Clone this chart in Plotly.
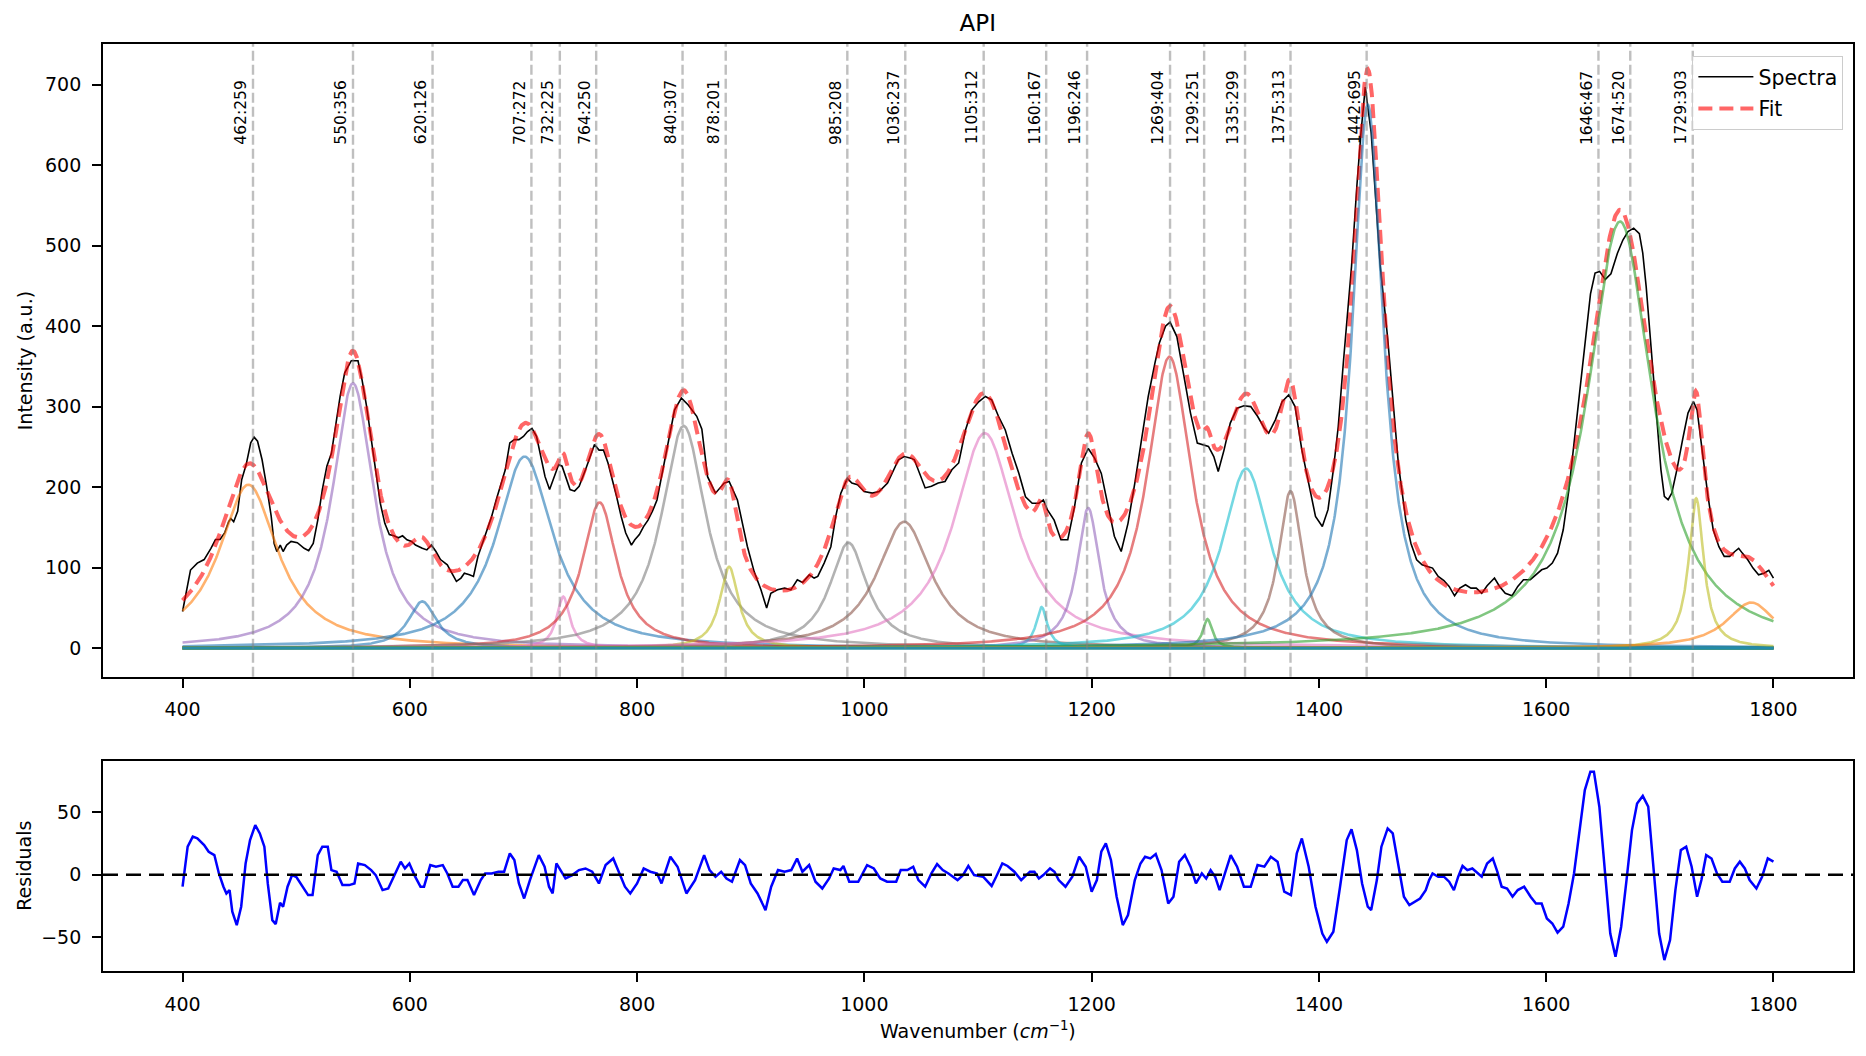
import numpy as np
import plotly.graph_objects as go

# ---------------- data ----------------
spec_x = [400,407,413,419,425,429,433,437,440.6,442.5,445,448.5,452,456,460,463,466,470,474,478,480.6,483,486,488.5,491.6,495.5,501,507,511,515,519,523,527,531,535,538.7,542.7,548.5,554.4,558,562,566,570,574,578,582,586,590,593.6,597.5,601.5,605,611,615,619,623,627,633,637,641,645,648,652.5,656,660,664,668,672,676,680,684,688,692,696,700,703.6,707.5,711.5,715,719,723,727,731,734,737,741,745,749,754.6,758.6,762.5,766.5,770.4,774.4,778.3,782,786,790,795,798,802,805.7,809.6,813.5,817.5,821,825,829,833,839,845,852.5,
          857,862,869,876.6,881,888.3,897,903,909,914,917.7,923.5,929.8,935.3,941,945.6,951.5,955.8,959,964.6,970.5,975,979.3,985,989,994,999.8,1007,1013,1020.4,1026.3,1030,1035,1041,1044,1049.5,1053.5,1059,1065,1071,1077,1083,1089,1094.7,1100.6,1106.5,1112,1118,1124,1130,1136,1141.8,1147.7,1153.6,1157.5,1161,1167,1173,1179,1185,1191,1197,1202.6,1208.5,1214,1220,1226,1232,1238,1244,1249.8,1255.7,1259.6,1265,1269,1275,1281,1287,1293,1298.8,1302.8,1307.5,1311.4,1316.5,1322,1328,1334,1340,1346,1352,1355.8,1361.7,1367.6,1373.5,1379,1385,1391,1397,1403,1408,1412.7,1417,1421.7,1428.7,1433.4,1437,1440.8,1446,1450,1454,1460.5,1465,1470,1476.4,1481,1486,1490.8,1495.5,1500,1505,1510,1514.6,1519.4,1524,1529,1533.8,1538.5,1543.3,1548,1554.5,1559,1564,1570,1575,1580,1586,1591,1596,1600.6,1605.4,1610,1615,1620,1625,1630,1635,1639,1643,1647,1652,1657,1662.7,1667.5,1672,1677,1682,1685,1688,1691.4,1694.6,1697.8,1701,1704,1707.3,1710.5,1715,1720,1724.8,1729.6,1732.8,1737.6,1742.4,1747,1752,1756.7,1761.5,1766,1769.4,1772.6,1777.4,1782,1786.9,1791.7,1795.9,1800]
spec_y = [45.5,97,105.6,110,124,135,135,143,157,161,157,170,209,228,255,262,257,234,201,164,130,120,128,120,128,132.5,131,124,121,130,159,197,226,242,279,313,342,357,357,333,300,259,221,180,155,141,139.5,137,139.5,134.6,132.5,128,124,122,128,120,110,103.5,93,83,87,93,91,89,114,130,147,163.5,184,203,221.5,255,259,259,263,269,273,263,238,213,197,213,228,226,213,197,195,201,221.5,238,253,246,246,230,209,188,163.5,143,128,134.6,141,151,159,170,184,209,238,271,296,310.5,302,288,
          272,213,192.5,205,207,184,126.5,95,72.4,49.7,68,72.4,74.5,72.4,84.8,81.5,91,87,89,105.6,126,165,192.5,210.9,205,203,194.6,192.5,194.6,205,221.7,234,238,236,234,213,199,201,205,207,221.5,230,271,296,306,312.6,308.5,288,271,242,217,188,180,180,184,172,159,134.6,134.6,176,230,248,236,217,180,139,120,155,205,259,312.6,354,379,400,405,387,341.6,292,254.7,252.6,250.5,238,219.5,246,279.5,298,301,300,288,273,267,283.6,306,314.7,300,246,205,163.6,151,172,221.5,275,358,474,574,640,697,640,557,474,385,311,228,160,130,109.7,103.5,101.4,99.4,89,84,76.6,65,74.5,78.7,74.5,74.5,68,77.4,87,76.6,68,65,76.6,85,85,91,97.3,99.4,105.6,118,147,197,259,325,390,440,466,468,458,465,490.6,507,517.5,521.7,515,490.6,449,391,333,271,221.5,188.4,184.3,192.5,221.5,258.8,292,306.4,296,242,188.4,147,126,113.9,113.9,120,124,118,109.7,99.4,91,93,96.5,87]

res_x = [400,404.5,409,413,419,423,428,432,436,438.6,441.4,443.8,447.7,451.6,455.5,459.4,464,468,472,475,479,482,485.8,488.5,492.4,496.4,500.3,505.4,510.5,514.4,519,523,527.8,531,535.6,540.7,546.6,551.3,554.5,560.4,566,570,576,581,586,592,595.7,599.6,604.7,609.4,612.5,618,623,629,633,637.7,642.8,646.7,650.7,656.5,662.4,666.3,672,678,683,688,692,696,700.6,705.7,713.5,718.6,722.5,725.7,729,733,737,743,748.8,754.6,760.5,766.4,772.3,779,784,789.3,794,800,805.8,811.7,817.6,821.5,829.3,835.6,843.4,851,859,863.8,869,874,878.7,883.5,890.5,895,900,906,913,918,924,929.8,935.7,940.8,945.5,951.4,957,963,969,973,978.9,981.6,986.7,994.6,1002.4,1008.3,1014,1020,1028,1032,1037.8,1043,1047.6,1053.5,1059,1064,1069,1074,1082,1086.8,1091.5,1096.6,1104.5,1112,1116,1121.4,1126,1132,1138,1145.7,1149.6,1153.6,1157.5,1163.4,1167.3,1171,1177,1183,1189,1194.8,1200,1204.6,1208.5,1212.5,1217,1222,1227.4,1232,1238,1243,1247,1251.7,1256.4,1261.5,1267.4,1272,1277,1282,1287,1291.8,1297,1300.8,1304.7,1308.7,1312.6,1316.5,1322.4,1328,1334,1340,1346,1352,1357.7,1363.6,1369.5,1375.4,1380.5,1385,1391,1397,1403,1407,1412.7,1418.6,1424.5,1428.7,1433.4,1438,1443,1446,1451,1455,1460.5,1465,1470,1474.8,1479.6,1484.4,1489,1494,1497,1500,1505,1510,1514.6,1518.8,1522.6,1526.4,1530.6,1535,1540,1543.3,1548,1553,1557,1560.8,1565.6,1570.4,1575,1580.6,1586.3,1591,1596,1600.6,1605.4,1610,1615,1619.7,1624.5,1629.3,1634,1638.9,1642,1646.8,1651.6,1656.4,1661,1666,1670.7,1675.5,1680,1685,1689.8,1694.6,1699.4,1704,1709,1713.7,1718.5,1723.2,1728,1732.8,1736.6,1740.8,1745.5,1750.3,1755,1761.5,1766,1770.4,1774.8,1779,1785,1790,1795,1800]
res_y = [-9.6,22.4,30.4,29,23.7,18.4,15.7,1,-9.6,-15,-12.3,-29.6,-40.3,-25.6,9,27.7,39.7,33,22.4,-7,-36.3,-39.5,-22.4,-25.6,-9.6,-0.3,-2,-9.6,-16.3,-16.3,15.7,22.4,22.4,3.7,2.4,-8.3,-8.3,-7,9,7.7,3.7,-0.3,-12.3,-11,-1.6,10.4,5,9,-1.6,-9.6,-9.6,7.7,6.4,7.7,1,-9.6,-9.6,-4.3,-4.3,-16.3,-4.3,1,1,2.4,2.4,17,11.7,-7,-19,-4.3,15.7,6.4,-9.6,-15,9,2.4,-3,-0.3,3.7,5,2.4,-7,7.7,13,2.4,-9.6,-15,-7,5,2.4,1,-7,14.4,6.4,-15,-4.3,15.7,3.7,-1.6,2.4,-3,-5.6,11.7,7.7,-7,-15,-28.3,-9.6,3.7,2.4,3.7,13,2.4,7.7,-5.6,-11,-3,5,3.7,7,-5.6,-5.6,7.7,5,-3,-5.6,-5.6,3.7,3.7,6.4,-4.3,-9.6,1,8.5,3.7,1,-4.3,-0.3,7,-0.3,-1.6,-9,-1.6,9,7,2.4,-4.3,2.4,2.4,-3,-0.3,5,2.4,-4.3,-9.6,-1.6,14.4,6.4,-13.6,-4.3,18.4,25,11.7,-17.6,-40.3,-32.3,-4.3,9,14.4,13,16.5,3.7,-23,-17.6,10.4,15.7,6.4,-7,1,-3,3.7,-1.6,-12.3,-1.6,15.7,6.4,-9.6,-9.6,7.7,6.4,14.4,10.4,-13.6,-16.3,17,29,6.4,-25.6,-47,-53.6,-45.6,-9.6,27.7,36.3,19.7,-7,-25.6,-28.3,-4.3,22.4,37,33,6.4,-17.6,-24.3,-21.6,-19,-12.3,-4.3,1,-1.6,-1.6,-5.6,-12.3,-1.6,7,3.7,5,1,-1.6,9,13,2.4,-9.6,-11,-17.6,-12.3,-9.6,-17.6,-23,-23,-35,-39,-46.4,-41.6,-23,1,35.7,67.7,82.4,82.4,54.4,1,-47,-65.6,-41.6,-4.3,35.7,57,63,54.4,1,-47,-68.3,-52.3,-12.3,19.7,22.4,6.4,-17.6,-4.3,15.7,13,1,-5.6,-5.6,5,10.4,5,-4.3,-11,-1.6,13,10.4]

# fitted Lorentzian components (centre, height, half width)
comp_center = [458, 550, 611, 701, 735, 767, 841, 881, 986, 1035, 1106, 1156, 1197, 1268.5, 1302, 1336, 1375, 1443, 1665, 1732, 1780.5, 1100, 1100, 1100]
comp_height = [203, 329, 58, 238, 64, 181, 276, 101, 131, 157, 267, 51, 174, 362, 36, 223, 195, 675, 530, 186, 56.7, 0, 0, 0]
comp_hwhm = [31.5, 22, 15, 30, 7, 18.5, 24, 10, 20, 29, 33, 6, 12, 24, 5, 25.5, 13, 16.5, 35, 8, 26.5, 1, 1, 1]
comp_color = ['#ff7f0e', '#9467bd', '#1f77b4', '#1f77b4', '#e377c2', '#d62728', '#7f7f7f', '#bcbd22',
              '#7f7f7f', '#8c564b', '#e377c2', '#17becf', '#9467bd', '#d62728', '#2ca02c', '#17becf',
              '#8c564b', '#1f77b4', '#2ca02c', '#bcbd22', '#ff7f0e', '#2ca02c', '#17becf', '#1f77b4']

peak_pos = [462, 550, 620, 707, 732, 764, 840, 878, 985, 1036, 1105, 1160, 1196, 1269, 1299, 1335, 1375, 1442, 1646, 1674, 1729]
peak_val = [259, 356, 126, 272, 225, 250, 307, 201, 208, 237, 312, 167, 246, 404, 251, 299, 313, 695, 467, 520, 303]

x_ticks = [400, 600, 800, 1000, 1200, 1400, 1600, 1800]
# ------------------------------------------------------------

FONT = "DejaVu Sans"
grid = np.arange(400, 1800.01, 0.5)

def hex_rgba(h, a):
    h = h.lstrip('#')
    return f"rgba({int(h[0:2],16)},{int(h[2:4],16)},{int(h[4:6],16)},{a})"

comps = [hgt / (1 + ((grid - c) / w) ** 2) for c, hgt, w in zip(comp_center, comp_height, comp_hwhm)]
fit = np.sum(comps, axis=0)

fig = go.Figure()
fig.add_trace(go.Scatter(x=spec_x, y=spec_y, mode='lines', name='Spectra', legendgroup='a',
                         line=dict(color='black', width=1.6), xaxis='x', yaxis='y'))
fig.add_trace(go.Scatter(x=grid, y=fit, mode='lines', name='Fit', legendgroup='b',
                         line=dict(color='rgba(255,0,0,0.6)', width=4, dash='14px,7px'),
                         xaxis='x', yaxis='y'))
for comp, col in zip(comps, comp_color):
    fig.add_trace(go.Scatter(x=grid, y=comp, mode='lines', showlegend=False,
                             line=dict(color=hex_rgba(col, 0.6), width=2.6), xaxis='x', yaxis='y',
                             hoverinfo='skip'))

fig.add_trace(go.Scatter(x=res_x, y=res_y, mode='lines', showlegend=False,
                         line=dict(color='#0000ff', width=2.5), xaxis='x2', yaxis='y2'))
fig.add_trace(go.Scatter(x=[330, 1870], y=[0, 0], mode='lines', showlegend=False,
                         line=dict(color='black', width=2.5, dash='15px,8px'), xaxis='x2', yaxis='y2'))

shapes = []
annotations = []
for p, v in zip(peak_pos, peak_val):
    shapes.append(dict(type='line', xref='x', yref='y domain', x0=p, x1=p, y0=0, y1=1,
                       line=dict(color='rgba(128,128,128,0.5)', width=2.4, dash='10px,4px'),
                       layer='above'))
    annotations.append(dict(x=p, y=623, xref='x', yref='y', text=f"{p}:{v}", textangle=-90,
                            xanchor='right', yanchor='bottom', showarrow=False, xshift=-1,
                            font=dict(family=FONT, size=15.5, color='black')))

# axis titles
annotations.append(dict(x=-0.0446, y=0.6588, xref='paper', yref='paper', text='Intensity (a.u.)',
                        textangle=-90, showarrow=False, xanchor='center', yanchor='middle',
                        font=dict(family=FONT, size=19, color='black')))
annotations.append(dict(x=-0.0452, y=0.1134, xref='paper', yref='paper', text='Residuals',
                        textangle=-90, showarrow=False, xanchor='center', yanchor='middle',
                        font=dict(family=FONT, size=19, color='black')))
annotations.append(dict(x=0.5, y=-0.0636, xref='paper', yref='paper',
                        text='Wavenumber (<i>cm</i><sup>\u22121</sup>)',
                        showarrow=False, xanchor='center', yanchor='middle',
                        font=dict(family=FONT, size=19, color='black')))

axis_common = dict(showline=True, linecolor='black', linewidth=1.8, mirror=True,
                   ticks='outside', ticklen=9, tickwidth=1.8, tickcolor='black',
                   showgrid=False, zeroline=False,
                   tickfont=dict(family=FONT, size=19, color='black'))

fig.update_layout(
    width=1866, height=1056,
    margin=dict(l=103, r=13, t=44, b=85),
    paper_bgcolor='white', plot_bgcolor='white',
    title=dict(text='API', x=0.524, xanchor='center', y=1 - 23 / 1056, yanchor='middle',
               font=dict(family=FONT, size=23, color='black')),
    xaxis=dict(domain=[0, 1], range=[330, 1870], anchor='y', tickvals=x_ticks,
               ticklabelstandoff=6, **axis_common),
    yaxis=dict(domain=[0.3175, 1], range=[-35.5, 750.5], anchor='x', tickvals=list(range(0, 701, 100)),
               ticklabelstandoff=7, **axis_common),
    xaxis2=dict(domain=[0, 1], range=[330, 1870], anchor='y2', tickvals=x_ticks,
                ticklabelstandoff=6, **axis_common),
    yaxis2=dict(domain=[0, 0.2269], range=[-77, 91.2], anchor='x2', tickvals=[-50, 0, 50],
                ticklabelstandoff=7, **axis_common),
    showlegend=True,
    legend=dict(x=0.9945, y=0.9871, xanchor='right', yanchor='top', tracegroupgap=2,
                bgcolor='rgba(255,255,255,0.8)', bordercolor='#cccccc', borderwidth=1,
                font=dict(family=FONT, size=20.5, color='black'), itemwidth=55),
    shapes=shapes, annotations=annotations,
)

fig.write_html("out.html", config={'displayModeBar': False},
               post_script="document.body.style.margin='0px';")
